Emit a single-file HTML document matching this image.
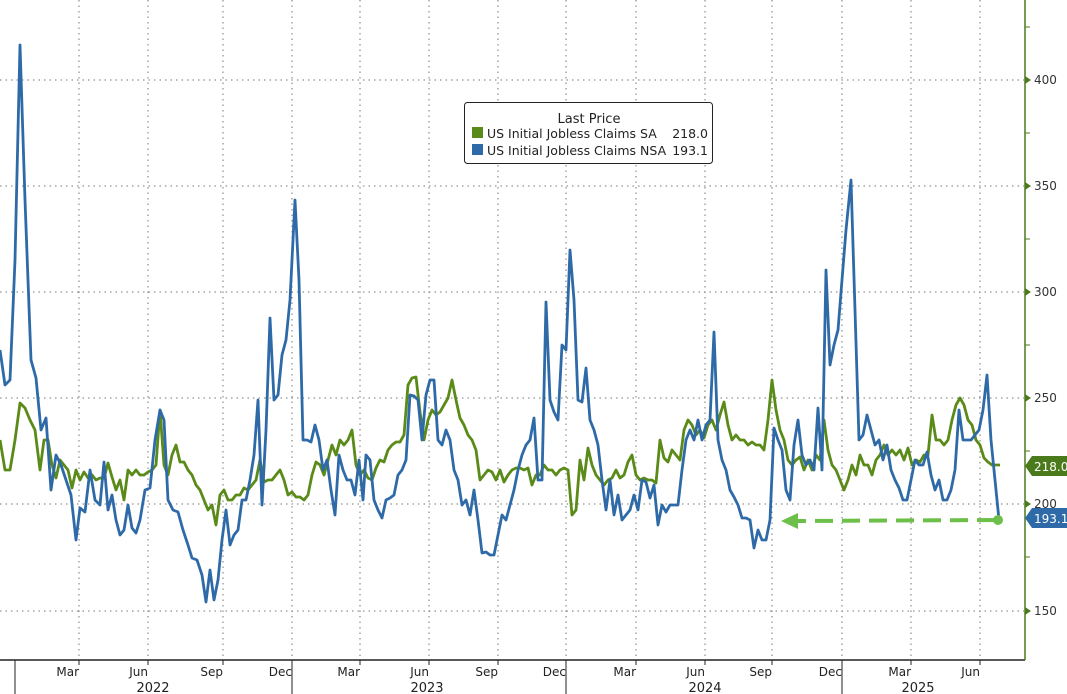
<!DOCTYPE html>
<html><head><meta charset="utf-8"><style>
html,body{margin:0;padding:0;background:#fff;}
svg{display:block;font-family:"DejaVu Sans","Liberation Sans",sans-serif;}
</style></head><body>
<svg width="1067" height="694" viewBox="0 0 1067 694" xmlns="http://www.w3.org/2000/svg">
<rect width="1067" height="694" fill="#fff"/>
<g stroke="#777" stroke-width="1" stroke-dasharray="1.5,4">
<line x1="0" y1="80" x2="1024" y2="80"/><line x1="0" y1="186" x2="1024" y2="186"/>
<line x1="0" y1="292" x2="1024" y2="292"/><line x1="0" y1="398" x2="1024" y2="398"/>
<line x1="0" y1="504" x2="1024" y2="504"/><line x1="0" y1="611" x2="1024" y2="611"/>
<line x1="79" y1="0" x2="79" y2="660"/><line x1="148" y1="0" x2="148" y2="660"/>
<line x1="223" y1="0" x2="223" y2="660"/><line x1="292" y1="0" x2="292" y2="660"/>
<line x1="360" y1="0" x2="360" y2="660"/><line x1="429" y1="0" x2="429" y2="660"/>
<line x1="498" y1="0" x2="498" y2="660"/><line x1="566" y1="0" x2="566" y2="660"/>
<line x1="636" y1="0" x2="636" y2="660"/><line x1="705" y1="0" x2="705" y2="660"/>
<line x1="772" y1="0" x2="772" y2="660"/><line x1="842" y1="0" x2="842" y2="660"/>
<line x1="911" y1="0" x2="911" y2="660"/><line x1="980" y1="0" x2="980" y2="660"/>
</g>
<line x1="0" y1="660" x2="1025" y2="660" stroke="#222" stroke-width="1.5"/>
<line x1="1025" y1="0" x2="1025" y2="660" stroke="#4a7a1c" stroke-width="1.5"/>
<g stroke="#222" stroke-width="1">
<line x1="15" y1="660" x2="15" y2="694"/><line x1="292" y1="660" x2="292" y2="694"/>
<line x1="566" y1="660" x2="566" y2="694"/><line x1="842" y1="660" x2="842" y2="694"/>
<line x1="79" y1="660" x2="79" y2="665"/><line x1="148" y1="660" x2="148" y2="665"/><line x1="223" y1="660" x2="223" y2="665"/>
<line x1="360" y1="660" x2="360" y2="665"/><line x1="429" y1="660" x2="429" y2="665"/><line x1="498" y1="660" x2="498" y2="665"/>
<line x1="636" y1="660" x2="636" y2="665"/><line x1="705" y1="660" x2="705" y2="665"/><line x1="772" y1="660" x2="772" y2="665"/>
<line x1="911" y1="660" x2="911" y2="665"/><line x1="980" y1="660" x2="980" y2="665"/>
</g>
<g font-size="12" fill="#222" text-anchor="end">
<text x="79" y="676">Mar</text><text x="148" y="676">Jun</text><text x="223" y="676">Sep</text><text x="292" y="676">Dec</text>
<text x="360" y="676">Mar</text><text x="429" y="676">Jun</text><text x="498" y="676">Sep</text><text x="566" y="676">Dec</text>
<text x="636" y="676">Mar</text><text x="705" y="676">Jun</text><text x="772" y="676">Sep</text><text x="842" y="676">Dec</text>
<text x="911" y="676">Mar</text><text x="980" y="676">Jun</text>
</g>
<g font-size="13" fill="#222" text-anchor="middle">
<text x="153" y="692">2022</text><text x="427" y="692">2023</text><text x="705" y="692">2024</text><text x="918" y="692">2025</text>
</g>
<g fill="#4a7a1c">
<polygon points="1025,76 1031,80 1025,84"/><polygon points="1025,182 1031,186 1025,190"/>
<polygon points="1025,288 1031,292 1025,296"/><polygon points="1025,394 1031,398 1025,402"/>
<polygon points="1025,500 1031,504 1025,508"/><polygon points="1025,607 1031,611 1025,615"/>
</g>
<g stroke="#4a7a1c"><line x1="1025" y1="27" x2="1030" y2="27"/><line x1="1025" y1="133" x2="1030" y2="133"/><line x1="1025" y1="239" x2="1030" y2="239"/><line x1="1025" y1="345" x2="1030" y2="345"/><line x1="1025" y1="451" x2="1030" y2="451"/><line x1="1025" y1="557" x2="1030" y2="557"/></g>
<g font-size="12" fill="#333">
<text x="1034" y="84">400</text><text x="1034" y="190">350</text><text x="1034" y="296">300</text>
<text x="1034" y="402">250</text><text x="1034" y="508">200</text><text x="1034" y="615">150</text>
</g>
<polyline fill="none" stroke="#5a8a18" stroke-width="2.8" stroke-linejoin="round" points="0,440 5,470 10,470 15,440 20,403 25,408 30,420 35,430 40,470 44,440 48,440 52,465 56,478 60,460 64,465 68,470 72,488 76,470 80,480 84,472 88,478 92,475 96,480 100,478 104,478 108,463 112,477 116,490 120,480 124,500 128,470 132,475 136,470 140,475 144,475 148,472 152,470 156,465 160,410 164,465 168,475 172,455 176,445 180,462 184,462 188,470 192,475 196,485 200,490 204,500 208,510 212,505 216,525 220,495 224,490 228,500 232,500 236,495 240,495 244,488 248,490 252,485 256,480 260,460 264,482 268,480 272,480 276,475 280,470 284,480 288,495 292,492 296,497 300,497 304,500 308,495 312,475 316,462 320,465 324,475 328,460 332,445 336,455 340,440 344,445 348,440 352,430 356,465 360,475 364,470 368,478 372,480 376,468 380,460 384,462 388,450 392,445 396,442 400,442 404,435 408,385 412,378 416,377 420,412 424,440 428,420 432,410 436,415 440,412 444,405 448,398 452,380 456,400 460,418 464,425 468,435 472,440 476,450 480,480 484,475 488,470 492,472 496,480 500,470 504,482 508,475 512,470 516,468 520,468 524,470 528,468 532,485 536,475 540,475 544,465 548,470 552,470 556,475 560,470 564,468 568,470 572,515 576,510 580,460 584,480 588,448 592,465 596,475 600,480 604,485 608,480 612,478 616,470 620,478 624,475 628,462 632,455 636,475 640,480 644,478 648,480 652,480 656,483 660,440 664,458 668,462 672,450 676,455 680,460 684,430 688,420 692,425 696,435 700,430 704,438 708,425 712,420 716,430 720,415 724,402 728,425 732,440 736,435 740,440 744,440 748,445 752,442 756,445 760,445 764,450 768,420 772,380 776,410 780,430 784,440 788,460 792,465 796,460 800,457 804,470 808,460 812,470 816,455 820,460 824,420 828,450 832,465 836,470 840,480 844,490 848,480 852,465 856,475 860,455 864,465 868,465 872,475 876,460 880,455 884,445 888,455 892,450 896,455 900,450 904,460 908,448 912,465 916,460 920,462 924,455 928,455 932,415 936,440 940,440 944,445 948,440 952,420 956,405 960,398 964,405 968,420 972,425 976,440 980,445 984,458 988,462 992,465 996,465 1000,465"/>
<polyline fill="none" stroke="#2f6aa8" stroke-width="2.8" stroke-linejoin="round" points="0,350 5,385 10,380 15,260 20,45 25,200 31,360 36,378 41,430 46,418 51,490 56,455 61,465 66,480 71,495 76,540 80,508 85,512 90,470 95,500 100,505 104,462 108,510 112,495 116,520 120,535 124,530 128,505 132,528 136,533 140,520 145,490 150,488 155,440 160,410 164,420 168,500 173,510 178,512 183,530 188,545 192,558 197,560 202,575 206,602 210,570 214,600 218,580 222,540 226,510 230,545 234,535 238,530 242,500 246,500 250,480 254,455 258,400 262,505 266,430 270,318 274,400 278,395 282,355 286,340 290,300 295,200 299,280 303,440 307,440 311,442 315,425 319,440 323,470 327,460 331,490 335,515 339,455 343,470 347,480 351,480 355,495 359,460 363,500 366,455 370,460 374,500 378,510 382,518 386,500 390,498 394,495 398,475 402,470 406,460 410,395 414,396 418,400 422,440 426,395 430,380 434,380 438,440 442,445 446,430 450,440 454,470 458,480 462,505 466,500 470,515 474,490 478,520 482,553 486,552 490,555 494,555 498,535 502,515 506,520 510,505 514,490 518,470 522,455 526,445 530,440 534,418 538,480 542,480 546,302 550,400 554,412 558,420 562,345 566,350 570,250 574,300 578,400 582,402 586,368 590,420 594,430 598,445 602,480 606,510 610,480 614,515 618,495 622,520 626,515 630,510 634,495 638,510 642,480 646,482 650,498 654,485 658,525 662,505 666,512 670,505 674,505 678,505 682,470 686,440 690,430 694,440 698,420 702,440 706,425 710,420 714,332 718,440 722,460 726,470 730,490 734,497 738,505 742,518 746,518 750,520 754,548 758,530 762,540 766,540 770,520 774,428 778,440 782,450 786,490 790,500 794,445 798,420 802,455 806,465 810,460 814,470 818,408 822,470 826,270 830,365 834,345 838,330 842,280 846,230 851,180 855,310 859,440 863,435 867,415 871,430 875,445 879,440 883,460 887,445 891,470 895,480 899,488 903,500 907,500 911,480 915,460 919,465 923,465 927,452 931,475 935,490 939,480 943,500 947,500 951,490 955,470 959,410 963,440 967,440 971,440 975,435 979,430 983,410 987,375 991,440 995,480 999,520"/>
<line x1="995" y1="520" x2="796" y2="521" stroke="#6cc04a" stroke-width="4" stroke-dasharray="18,9"/>
<polygon points="781,521 798,513 798,529" fill="#6cc04a"/>
<circle cx="998" cy="520" r="5" fill="#6cc04a"/>
<polygon points="1025,466 1032,456 1067,456 1067,476 1032,476" fill="#4a7a1c"/>
<text x="1034" y="471" font-size="12" fill="#fff">218.0</text>
<polygon points="1025,518 1032,508 1067,508 1067,528 1032,528" fill="#2f6aa8"/>
<text x="1034" y="523" font-size="12" fill="#fff">193.1</text>
<rect x="464.5" y="102.5" width="248" height="61" rx="3" fill="#fff" stroke="#222" stroke-width="1"/>
<text x="589" y="123" font-size="13" fill="#222" text-anchor="middle">Last Price</text>
<rect x="472" y="127" width="11" height="11" fill="#5a8a18"/>
<rect x="472" y="144" width="11" height="11" fill="#2f6aa8"/>
<text x="487" y="138" font-size="12.5" fill="#222">US Initial Jobless Claims SA</text>
<text x="708" y="138" font-size="12.5" fill="#222" text-anchor="end">218.0</text>
<text x="487" y="155" font-size="12.5" fill="#222">US Initial Jobless Claims NSA</text>
<text x="708" y="155" font-size="12.5" fill="#222" text-anchor="end">193.1</text>
</svg>
</body></html>
